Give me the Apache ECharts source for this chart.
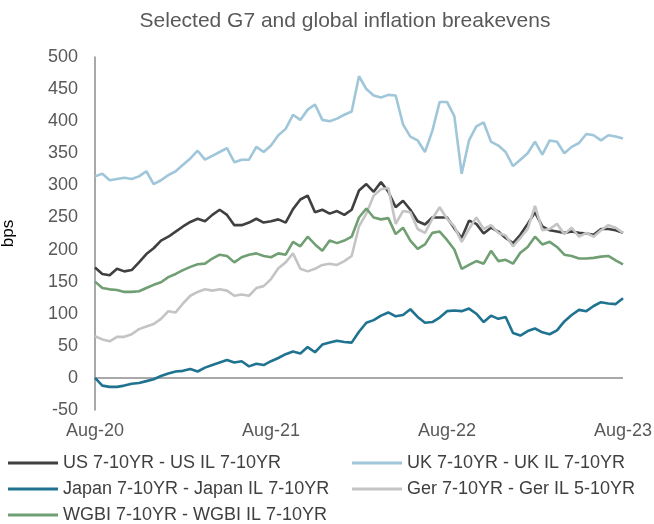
<!DOCTYPE html>
<html>
<head>
<meta charset="utf-8">
<script src="https://cdn.jsdelivr.net/npm/echarts@6/dist/echarts.min.js"></script>
<style>html,body{margin:0;padding:0;background:#fff}#c{width:654px;height:524px}</style>
</head>
<body>
<div id="c"></div>
<script>
// x positions: months since Aug-2020, half-month steps (0 .. 36)
const months = Array.from({length: 73}, (_, i) => i / 2);
const xTickLabels = {0: 'Aug-20', 12: 'Aug-21', 24: 'Aug-22', 36: 'Aug-23'};
const yTicks = {min: -50, max: 500, step: 50};

const seriesNames = [
  'US 7-10YR - US IL 7-10YR',
  'UK 7-10YR - UK IL 7-10YR',
  'Japan 7-10YR - Japan IL 7-10YR',
  'Ger 7-10YR - Ger IL 5-10YR',
  'WGBI 7-10YR - WGBI IL 7-10YR'
];

const us = [172,162,160,170,166,168,180,193,202,214,220,228,236,243,248,244,254,262,254,238,238,242,248,242,
  244,247,242,263,278,284,258,262,256,260,254,262,292,302,290,305,290,266,276,262,244,239,250,250,
  250,233,218,245,240,225,234,228,218,210,223,240,258,236,230,228,226,228,226,225,223,232,232,230,226];

const uk = [314,318,308,310,312,310,314,322,302,308,316,322,332,342,354,340,346,352,358,336,340,340,360,352,
  362,378,388,410,402,418,426,402,400,404,410,415,470,450,440,437,441,440,395,376,370,352,385,430,
  430,408,318,370,392,398,368,362,352,330,340,350,368,348,370,368,350,360,366,380,378,370,378,376,373];

const japan = [0,-12,-14,-14,-12,-9,-8,-5,-2,3,7,10,11,14,10,16,20,24,28,24,26,18,22,20,
  26,31,37,41,38,48,40,52,55,58,56,55,72,86,90,97,102,96,98,107,95,86,87,94,
  104,105,104,108,100,87,97,92,95,70,66,73,77,71,68,74,88,98,106,104,112,118,116,115,124];

const ger = [65,60,57,64,64,68,76,80,84,92,104,102,116,128,134,138,136,138,136,128,130,128,140,143,
  154,171,180,194,170,166,170,176,178,176,182,190,236,256,284,294,296,240,260,258,232,226,248,266,
  248,236,212,232,250,232,238,226,222,205,218,232,268,230,232,240,224,234,220,226,220,230,238,234,226];

const wgbi = [150,140,138,137,134,134,135,140,145,149,157,162,168,173,177,178,186,192,190,180,188,192,194,190,
  188,194,192,212,205,220,208,198,214,210,214,220,250,264,250,247,249,224,234,214,201,208,226,228,
  215,200,170,176,182,178,198,182,184,178,195,204,220,208,212,204,192,190,186,186,187,189,190,183,177];

const colors = ['#404040', '#9fc6d9', '#1f7390', '#c4c4c4', '#6f9f73'];
const values = [us, uk, japan, ger, wgbi];

const font = 'Liberation Sans, Arial, sans-serif';
const chart = echarts.init(document.getElementById('c'), null, {renderer: 'canvas'});

const series = values.map((vals, i) => ({
  name: seriesNames[i],
  type: 'line',
  data: vals.map((v, j) => [months[j], v]),
  showSymbol: false,
  symbol: 'none',
  lineStyle: {color: colors[i], width: 2.6},
  itemStyle: {color: colors[i]},
  z: 2 + i,
  animation: false
}));
series[0].markLine = {
  silent: true,
  symbol: 'none',
  label: {show: false},
  lineStyle: {color: '#8c8c8c', width: 1.5, type: 'solid'},
  data: [{yAxis: 0}],
  animation: false,
  z: 1
};

// legend slots: [series index, left, top]
const legendSlots = [[0, 8, 454], [2, 8, 480], [4, 8, 506], [1, 352, 454], [3, 352, 480]];
const legends = legendSlots.map(([idx, left, top]) => ({
  orient: 'horizontal', left: left, top: top, padding: 0,
  itemWidth: 50, itemHeight: 3, icon: 'rect', itemGap: 0,
  data: [seriesNames[idx]],
  textStyle: {fontFamily: font, fontSize: 18, color: '#404040'}
}));

chart.setOption({
  backgroundColor: '#fff',
  animation: false,
  title: {
    text: 'Selected G7 and global inflation breakevens',
    left: 340, top: 6, textAlign: 'center',
    textStyle: {fontFamily: font, fontSize: 21, fontWeight: 'normal', color: '#595959'}
  },
  legend: legends,
  grid: {left: 95, right: 31, top: 57, bottom: 114, containLabel: false, outerBoundsMode: 'none'},
  xAxis: {
    type: 'value', min: 0, max: 36, interval: 12,
    axisLine: {show: false}, axisTick: {show: false}, splitLine: {show: false},
    axisLabel: {
      formatter: v => xTickLabels[v] || '',
      fontFamily: font, fontSize: 18, color: '#595959', margin: 12,
      showMinLabel: true, showMaxLabel: true
    }
  },
  yAxis: {
    type: 'value', min: yTicks.min, max: yTicks.max, interval: yTicks.step,
    name: 'bps', nameLocation: 'middle', nameGap: 78,
    nameTextStyle: {fontFamily: font, fontSize: 17, color: '#000'},
    axisLine: {show: true, onZero: false, lineStyle: {color: '#8c8c8c', width: 1.5}},
    axisTick: {show: false}, splitLine: {show: false},
    axisLabel: {fontFamily: font, fontSize: 18, color: '#595959', margin: 17}
  },
  series: series
});
</script>
</body>
</html>
